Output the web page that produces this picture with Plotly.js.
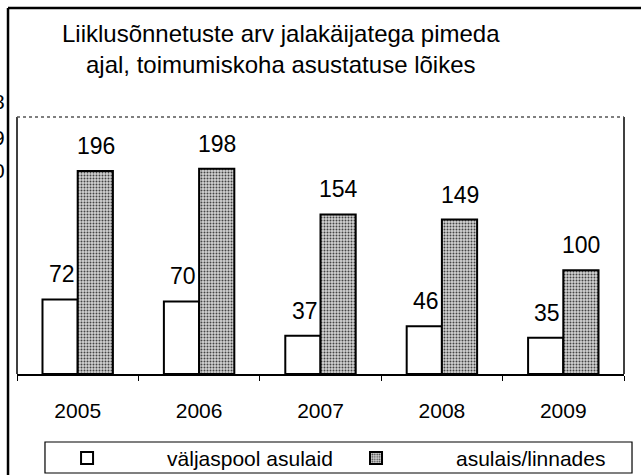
<!DOCTYPE html>
<html>
<head>
<meta charset="utf-8">
<script src="https://cdn.plot.ly/plotly-3.0.1.min.js"></script>
<style>html,body{margin:0;padding:0;background:#fff}#chart{width:641px;height:475px}</style>
</head>
<body>
<div id="chart"></div>
<script>
var years = ['2005', '2006', '2007', '2008', '2009'];
var outside = [72, 70, 37, 46, 35];
var urban = [196, 198, 154, 149, 100];
var seriesNames = ['väljaspool asulaid', 'asulais/linnades'];
var titleText = 'Liiklusõnnetuste arv jalakäijatega pimeda<br>ajal, toimumiskoha asustatuse lõikes';
var edgeDigits = ['8', '9', '0'];

var FONT = 'Liberation Sans, Arial, sans-serif';

var traces = [
  {
    type: 'bar', x: years, y: outside, name: seriesNames[0], legend: 'legend',
    marker: {color: '#ffffff', line: {color: '#000', width: 2}},
    hoverinfo: 'skip'
  },
  {
    type: 'bar', x: years, y: urban, name: seriesNames[1], legend: 'legend2',
    marker: {color: '#a4a4a4', line: {color: '#000', width: 2},
      pattern: {shape: '.', fgcolor: '#444444', bgcolor: '#d2d2d2', size: 3, solidity: 0.33}},
    hoverinfo: 'skip'
  }
];

var annotations = [];
years.forEach(function (yr, i) {
  annotations.push({x: i, y: outside[i], xref: 'x', yref: 'y', text: String(outside[i]),
    showarrow: false, xshift: -16, yshift: 10, yanchor: 'bottom',
    font: {family: FONT, size: 23, color: '#000'}});
  annotations.push({x: i, y: urban[i], xref: 'x', yref: 'y', text: String(urban[i]),
    showarrow: false, xshift: 18, yshift: 10, yanchor: 'bottom',
    font: {family: FONT, size: 23, color: '#000'}});
});
var digitY = [1.06, 0.92, 0.79];
edgeDigits.forEach(function (d, i) {
  annotations.push({x: -0.0165, y: digitY[i], xref: 'paper', yref: 'paper', text: d,
    showarrow: false, xanchor: 'right', yanchor: 'middle',
    font: {family: FONT, size: 21, color: '#000'}});
});

var legendBase = {orientation: 'h', xanchor: 'left', y: 0.078, yanchor: 'top',
  xref: 'container', yref: 'container',
  bgcolor: 'rgba(0,0,0,0)', borderwidth: 0, itemwidth: 150,
  font: {family: FONT, size: 21, color: '#000'}};

var layout = {
  width: 641, height: 475,
  margin: {l: 17, r: 17, t: 117, b: 101, pad: 0, autoexpand: false},
  paper_bgcolor: '#fff', plot_bgcolor: '#fff',
  font: {family: FONT, color: '#000'},
  title: {text: titleText, x: 0.438, xanchor: 'center', xref: 'container',
    y: 0.912, yanchor: 'top', yref: 'container',
    font: {family: FONT, size: 24, color: '#000'}},
  barmode: 'group', bargap: 0.42, bargroupgap: 0,
  xaxis: {type: 'category', range: [-0.5, 4.5], showline: true, linecolor: '#000', linewidth: 1.5,
    ticks: 'outside', tickson: 'boundaries', ticklen: 5, tickcolor: '#000', tickwidth: 1,
    ticklabelstandoff: 17, tickfont: {family: FONT, size: 21, color: '#000'},
    showgrid: false, zeroline: false, fixedrange: true},
  yaxis: {range: [0, 248], showgrid: false, zeroline: false, showticklabels: false,
    showline: false, ticks: '', fixedrange: true},
  showlegend: true,
  legend: Object.assign({}, legendBase, {x: 0.011}),
  legend2: Object.assign({}, legendBase, {x: 0.4618}),
  shapes: [
    {type: 'line', xref: 'paper', yref: 'paper', x0: -0.0148, x1: -0.0148, y0: 1.424, y1: -0.5,
      line: {color: '#000', width: 2.5}},
    {type: 'line', xref: 'paper', yref: 'paper', x0: -0.0148, x1: 1.1, y0: 1.424, y1: 1.424,
      line: {color: '#000', width: 2.5}},
    {type: 'line', xref: 'paper', yref: 'paper', x0: 0, x1: 0, y0: 0, y1: 1,
      line: {color: '#000', width: 1.5}},
    {type: 'line', xref: 'paper', yref: 'paper', x0: 1, x1: 1, y0: 0, y1: 1,
      line: {color: '#000', width: 1.5}},
    {type: 'line', xref: 'paper', yref: 'paper', x0: 0, x1: 1, y0: 1, y1: 1,
      line: {color: '#555', width: 1.5, dash: 'dot'}},
    {type: 'rect', xref: 'paper', yref: 'paper', x0: 0.0461, x1: 1.0132, y0: -0.2646, y1: -0.3852,
      line: {color: '#000', width: 1.2}, fillcolor: 'rgba(0,0,0,0)'}
  ],
  annotations: annotations
};

Plotly.newPlot('chart', traces, layout, {displayModeBar: false, staticPlot: true});
</script>
</body>
</html>
